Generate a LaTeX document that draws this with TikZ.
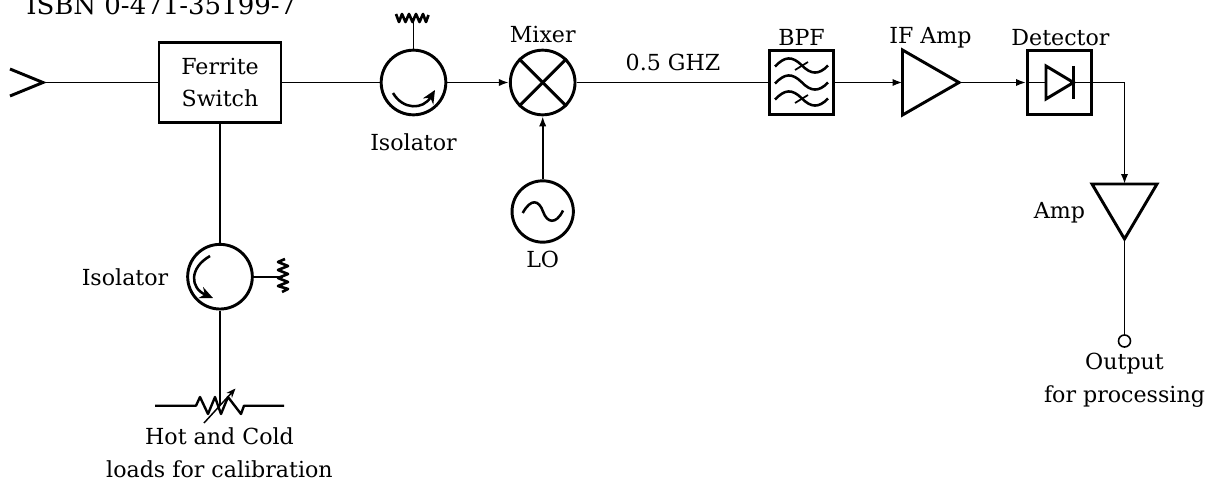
\documentclass[tikz,border=0pt]{standalone}
\usepackage{fontspec}
\setmainfont{DejaVu Serif}
\usetikzlibrary{arrows.meta,calc}
\tikzset{
  wire/.style={line width=1.45pt},
  sig/.style={wire,-{Latex[length=7.5pt,width=5.5pt]}},
  heavy/.style={line width=2.2pt,line join=miter},
  boxa/.style={draw,line width=1.6pt,minimum width=91pt,minimum height=60pt,inner sep=0pt,align=center,font=\fontsize{16.6}{24}\selectfont},
  boxb/.style={draw,heavy,minimum width=48pt,minimum height=48pt,inner sep=0pt},
  ring/.style={circle,draw,heavy,inner sep=0pt},
  lab/.style={inner sep=0pt,align=center,font=\fontsize{16.6}{24.5}\selectfont},
  fine/.style={line width=2pt,line join=round},
  curl/.style={line width=1.9pt,-{Stealth[length=10pt,width=9pt]}},
}
\begin{document}
\begin{tikzpicture}[x=0.75pt,y=-0.75pt]
\useasboundingbox (0,0) rectangle (1220,485);
% text
\node[lab,anchor=base west,font=\fontsize{19.5}{24}\selectfont] (isbn) at (26,15) {ISBN 0-471-35199-7};
% main blocks
\coordinate (ant) at (43,82.5);
\draw[heavy] (10,69) -- (ant) -- (10,96);
\node[boxa] (sw) at (220,82.5) {Ferrite\\Switch};
\node[ring,minimum size=48.5pt] (iso1) at (413.5,82.5) {};
\node[ring,minimum size=48.5pt] (mix) at (542.7,82.5) {};
\node[ring,minimum size=46pt] (lo) at (542.7,211.5) {};
\node[boxb] (bpf) at (801.5,82.5) {};
\coordinate (if1) at (902.5,50); \coordinate (if2) at (902.5,115); \coordinate (ifin) at (902.5,82.5); \coordinate (ifout) at (959,82.5);
\draw[heavy] (if1) -- (if2) -- (ifout) -- cycle;
\node[boxb] (det) at (1059.5,82.5) {};
\coordinate (d1) at (1046,66); \coordinate (d2) at (1046,99); \coordinate (dl) at (1046,82.5); \coordinate (dr) at (1073.5,82.5);
\draw[heavy] (d1) -- (d2) -- (dr) -- cycle;
\draw[heavy] (1073.5,66) -- (1073.5,99);
\coordinate (a1) at (1092,184); \coordinate (a2) at (1157,184); \coordinate (ain) at (1124.5,184); \coordinate (aout) at (1124.5,239);
\draw[heavy] (a1) -- (a2) -- (aout) -- cycle;
\node[circle,draw,line width=1.2pt,minimum size=9pt,inner sep=0pt] (out) at (1124.5,341) {};
\node[ring,minimum size=48.5pt] (iso2) at (220,276.7) {};
% connectors
\draw[wire] (ant) -- (sw.west);
\draw[wire] (sw.east) -- (iso1.west);
\draw[sig] (iso1.east) -- (mix.west);
\draw[sig] (lo.north) -- (mix.south);
\draw[wire] (mix.east) -- (bpf.west);
\draw[sig] (bpf.east) -- (ifin);
\draw[sig] (ifout) -- (det.west);
\draw[wire] (det.west) -- (dl);
\draw[wire] (dr) -- (det.east);
\draw[sig] (det.east) -| (ain);
\draw[wire] (aout) -- (out.north);
\draw[wire] (sw.south) -- (iso2.north);
% mixer cross
\draw[heavy] (mix.45) -- (mix.225);
\draw[heavy] (mix.135) -- (mix.315);
% isolator 1
\coordinate (r1) at (413.5,18);
\draw[wire] (iso1.north) -- (r1);
\draw[fine] (396,14) -- (399,22) -- (402,14) -- (405.5,22) -- (409,14) -- (412.5,22) -- (416,14) -- (419.5,22) -- (423,14) -- (426,22) -- (428.5,15);
\draw[curl] (393,93) .. controls (403,110) and (423,110) .. (435,90);
% isolator 2
\coordinate (r2) at (283,276.7);
\draw[wire] (iso2.east) -- (r2);
\draw[fine] (285,259) -- (278,262) -- (288,266) -- (278,270) -- (288,274) -- (278,278) -- (288,282) -- (278,286) -- (288,289) -- (282,292);
\draw[curl] (210,256) .. controls (189,268) and (190,288) .. (213,298);
% variable load
\coordinate (ll) at (155,405.7); \coordinate (lr) at (284,405.7); \coordinate (lc) at (220,405.7);
\draw[wire] (iso2.south) -- (lc);
\draw[line width=1.8pt,line join=round] (ll) -- (196,405.7) -- (200,397) -- (208,414) -- (215,397) -- (221,414) -- (228,397) -- (241,414) -- (244,405.7) -- (lr);
\draw[line width=1.1pt,-{Stealth[length=7pt,width=5.5pt]}] (204,423) -- (235.5,388.5);
% LO sine
\draw[line width=1.9pt] (522.7,213) .. controls (531,198) and (539,200) .. (543,211.5) .. controls (547,223) and (556,225) .. (563,210.5);
% BPF waves
\foreach \yy in {65,82,98}{
  \draw[line width=1.9pt] (775,\yy+1.5) .. controls (785,\yy-9) and (792,\yy-9) .. (801.5,\yy) .. controls (811,\yy+10) and (819,\yy+10) .. (828,\yy+0.5);
}
\draw[line width=1.3pt] (795,70) -- (808,62);
\draw[line width=1.3pt] (795,103) -- (808,95);
% labels
\node[lab,anchor=base] (l1) at (413.5,150) {Isolator};
\node[lab,anchor=base] (l2) at (542.7,43) {Mixer};
\node[lab,anchor=base] (l3) at (542.7,267) {LO};
\node[lab,anchor=base] (l4) at (673,70) {0.5 GHZ};
\node[lab,anchor=base] (l5) at (801.5,46) {BPF};
\node[lab,anchor=base] (l6) at (930.5,44) {IF Amp};
\node[lab,anchor=base] (l7) at (1060.5,46) {Detector};
\node[lab,anchor=base] (l8) at (1059.5,218) {Amp};
\node[lab,anchor=base] (l9) at (125,285) {Isolator};
\node[lab] (l10) at (1124.5,380) {Output\\for processing};
\node[lab] (l11) at (219.5,453) {Hot and Cold\\loads for calibration};
\end{tikzpicture}
\end{document}
